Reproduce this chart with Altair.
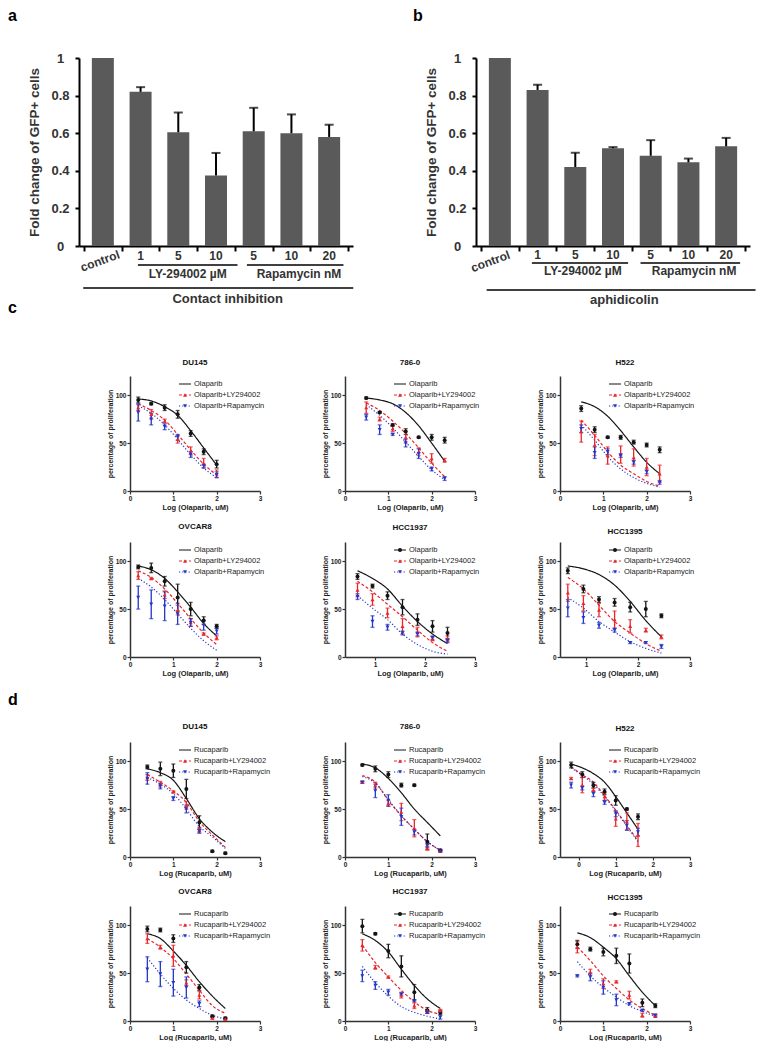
import altair as alt
import pandas as pd

FONT = "Liberation Sans"
RED = "#e8262b"
BLUE = "#2536c8"
BLACK = "#141414"
BAR_GRAY = "#5a5a5a"
AX = "#333333"

# ---------------- panels a and b ----------------
BAR_KEYS = ["control", "LY 1", "LY 5", "LY 10", "Rapa 5", "Rapa 10", "Rapa 20"]
BAR_TICKS = ["control", "1", "5", "10", "5", "10", "20"]
A_MEAN = [1.0, 0.82, 0.605, 0.375, 0.61, 0.60, 0.58]
A_ERR = [0.0, 0.025, 0.105, 0.12, 0.125, 0.10, 0.065]
B_MEAN = [1.0, 0.83, 0.42, 0.52, 0.48, 0.445, 0.53]
B_ERR = [0.0, 0.028, 0.076, 0.006, 0.083, 0.02, 0.045]

# ---------------- panel c (Olaparib) ----------------
C_DU145_X = [0.19, 0.49, 0.80, 1.10, 1.40, 1.70, 2.00]
C_DU145_DRUG = [95, 91, 87, 80, 60, 41, 28]
C_DU145_DRUG_SEM = [3, 1, 3, 4, 3, 3, 4]
C_DU145_LY = [87, 80, 73, 54, 42, 29, 18]
C_DU145_LY_SEM = [3, 5, 2, 4, 4, 5, 4]
C_DU145_RAPA = [82, 75, 67, 56, 38, 26, 17]
C_DU145_RAPA_SEM = [9, 6, 3, 3, 3, 2, 3]
C_DU145_FIT_DRUG = [96, 94, 88, 79, 63, 45, 27]
C_DU145_FIT_LY = [91, 84, 74, 59, 43, 28, 17]
C_DU145_FIT_RAPA = [89, 81, 69, 54, 38, 24, 14]

C_7860_X = [0.49, 0.80, 1.10, 1.40, 1.70, 2.00, 2.30]
C_7860_DRUG = [97, 82, 69, 62, 56, 56, 53]
C_7860_DRUG_SEM = [1, 1, 1, 3, 1, 3, 3]
C_7860_LY = [87, 75, 65, 56, 41, 34, 32]
C_7860_LY_SEM = [6, 2, 3, 6, 4, 5, 2]
C_7860_RAPA = [77, 64, 59, 50, 39, 23, 13]
C_7860_RAPA_SEM = [3, 5, 1, 4, 5, 2, 2]
C_7860_FIT_DRUG = [97, 95, 91, 82, 68, 50, 31]
C_7860_FIT_LY = [92, 84, 73, 60, 45, 29, 15]
C_7860_FIT_RAPA = [90, 79, 66, 51, 36, 22, 12]

C_H522_X = [0.49, 0.80, 1.10, 1.40, 1.70, 2.00, 2.30]
C_H522_DRUG = [86, 64, 56, 56, 51, 48, 43]
C_H522_DRUG_SEM = [3, 3, 1, 2, 2, 2, 3]
C_H522_LY = [62, 48, 37, 38, 35, 25, 18]
C_H522_LY_SEM = [11, 11, 9, 9, 9, 9, 9]
C_H522_RAPA = [65, 40, 41, 37, 30, 20, 9]
C_H522_RAPA_SEM = [4, 6, 3, 2, 2, 2, 2]
C_H522_FIT_DRUG = [93, 88, 78, 63, 46, 30, 18]
C_H522_FIT_LY = [74, 58, 41, 27, 18, 10, 5]
C_H522_FIT_RAPA = [69, 53, 36, 23, 14, 8, 4]

C_OVCAR8_X = [0.19, 0.49, 0.80, 1.10, 1.40, 1.70, 2.00]
C_OVCAR8_DRUG = [94, 93, 79, 62, 50, 38, 32]
C_OVCAR8_DRUG_SEM = [2, 5, 5, 14, 7, 4, 2]
C_OVCAR8_LY = [85, 82, 65, 49, 36, 24, 20]
C_OVCAR8_LY_SEM = [4, 1, 4, 5, 4, 1, 2]
C_OVCAR8_RAPA = [62, 55, 53, 45, 36, 33, 27]
C_OVCAR8_RAPA_SEM = [12, 15, 15, 11, 4, 5, 3]
C_OVCAR8_FIT_DRUG = [95, 91, 82, 68, 52, 35, 22]
C_OVCAR8_FIT_LY = [90, 83, 71, 56, 40, 25, 13]
C_OVCAR8_FIT_RAPA = [82, 73, 60, 45, 30, 17, 7]

C_HCC1937_X = [0.65, 0.95, 1.25, 1.55, 1.85, 2.15, 2.45]
C_HCC1937_DRUG = [84, 74, 64, 52, 39, 32, 25]
C_HCC1937_DRUG_SEM = [3, 2, 4, 8, 6, 6, 6]
C_HCC1937_LY = [70, 60, 46, 32, 26, 19, 19]
C_HCC1937_LY_SEM = [7, 6, 5, 8, 5, 2, 3]
C_HCC1937_RAPA = [63, 37, 31, 25, 24, 20, 17]
C_HCC1937_RAPA_SEM = [3, 6, 3, 2, 2, 2, 2]
C_HCC1937_FIT_DRUG = [90, 82, 71, 53, 37, 24, 14]
C_HCC1937_FIT_LY = [79, 68, 55, 42, 28, 15, 6]
C_HCC1937_FIT_RAPA = [64, 51, 39, 24, 13, 6, 3]

C_HCC1395_X = [0.65, 0.95, 1.25, 1.55, 1.85, 2.15, 2.45]
C_HCC1395_DRUG = [90, 71, 60, 57, 52, 50, 43]
C_HCC1395_DRUG_SEM = [3, 4, 3, 4, 5, 8, 2]
C_HCC1395_LY = [67, 56, 49, 39, 32, 28, 21]
C_HCC1395_LY_SEM = [9, 8, 7, 9, 7, 2, 2]
C_HCC1395_RAPA = [51, 41, 33, 28, 15, 15, 11]
C_HCC1395_RAPA_SEM = [9, 6, 3, 2, 1, 1, 2]
C_HCC1395_FIT_DRUG = [95, 92, 86, 75, 58, 38, 21]
C_HCC1395_FIT_LY = [83, 71, 54, 37, 25, 14, 6]
C_HCC1395_FIT_RAPA = [62, 51, 37, 26, 16, 9, 4]

# ---------------- panel d (Rucaparib) ----------------
D_DU145_X = [0.40, 0.70, 1.00, 1.30, 1.60, 1.90, 2.20]
D_DU145_DRUG = [94, 92, 90, 71, 36, 6, 4]
D_DU145_DRUG_SEM = [2, 7, 7, 10, 7, 1, 1]
D_DU145_LY = [83, 76, 68, 54, 28, None, None]
D_DU145_LY_SEM = [3, 3, 1, 4, 3, 0, 0]
D_DU145_RAPA = [82, 74, 61, 50, 27, None, None]
D_DU145_RAPA_SEM = [6, 3, 2, 4, 2, 0, 0]
D_DU145_FIT_DRUG = [92, 88, 80, 61, 40, 26, 16]
D_DU145_FIT_LY = [86, 78, 69, 57, 37, 23, 10]
D_DU145_FIT_RAPA = [83, 76, 66, 50, 32, 21, 9]

D_7860_X = [0.40, 0.70, 1.00, 1.30, 1.60, 1.90, 2.20]
D_7860_DRUG = [96, 92, 86, 75, 75, 16, 7]
D_7860_DRUG_SEM = [1, 3, 3, 2, 1, 8, 1]
D_7860_LY = [78, 75, 56, 47, 30, 9, 6]
D_7860_LY_SEM = [1, 3, 3, 9, 9, 2, 1]
D_7860_RAPA = [78, 69, 59, 42, 26, 12, 6]
D_7860_RAPA_SEM = [1, 7, 6, 9, 3, 2, 1]
D_7860_FIT_DRUG = [97, 93, 82, 67, 50, 36, 22]
D_7860_FIT_LY = [85, 78, 59, 43, 29, 16, 7]
D_7860_FIT_RAPA = [84, 77, 60, 43, 29, 16, 7]

D_H522_X = [-0.20, 0.10, 0.40, 0.70, 1.00, 1.30, 1.60]
D_H522_DRUG = [96, 86, 75, 68, 59, 50, 42]
D_H522_DRUG_SEM = [3, 3, 3, 3, 5, 1, 3]
D_H522_LY = [82, 75, 70, 63, 40, 37, 23]
D_H522_LY_SEM = [1, 8, 2, 4, 8, 9, 12]
D_H522_RAPA = [75, 72, 66, 57, 45, 33, 26]
D_H522_RAPA_SEM = [3, 2, 3, 2, 3, 5, 4]
D_H522_FIT_DRUG = [97, 93, 87, 78, 63, 46, 29]
D_H522_FIT_LY = [94, 86, 78, 64, 49, 33, 17]
D_H522_FIT_RAPA = [93, 85, 76, 63, 48, 32, 16]

D_OVCAR8_X = [0.40, 0.70, 1.00, 1.30, 1.60, 1.90, 2.20]
D_OVCAR8_DRUG = [96, 95, 86, 56, 35, 5, 3]
D_OVCAR8_DRUG_SEM = [3, 2, 4, 6, 3, 1, 1]
D_OVCAR8_LY = [86, 77, 68, 40, 27, 3, 2]
D_OVCAR8_LY_SEM = [5, 2, 11, 3, 4, 1, 1]
D_OVCAR8_RAPA = [54, 49, 40, 35, 18, None, None]
D_OVCAR8_RAPA_SEM = [13, 13, 14, 11, 3, 0, 0]
D_OVCAR8_FIT_DRUG = [91, 86, 73, 58, 41, 26, 13]
D_OVCAR8_FIT_LY = [86, 77, 65, 49, 32, 16, 8]
D_OVCAR8_FIT_RAPA = [66, 49, 34, 22, 13, 6, 2]

D_HCC1937_X = [0.40, 0.70, 1.00, 1.30, 1.60, 1.90, 2.20]
D_HCC1937_DRUG = [99, 91, 73, 57, 30, 11, 9]
D_HCC1937_DRUG_SEM = [7, 1, 7, 11, 8, 3, 2]
D_HCC1937_LY = [79, 56, 46, 27, 16, 11, 11]
D_HCC1937_LY_SEM = [6, 2, 1, 3, 3, 1, 1]
D_HCC1937_RAPA = [47, 37, 30, 28, 21, 9, 4]
D_HCC1937_RAPA_SEM = [6, 4, 3, 1, 1, 1, 2]
D_HCC1937_FIT_DRUG = [91, 84, 72, 54, 37, 23, 13]
D_HCC1937_FIT_LY = [79, 61, 46, 32, 20, 11, 7]
D_HCC1937_FIT_RAPA = [57, 40, 26, 15, 9, 5, 2]

D_HCC1395_X = [0.40, 0.70, 1.00, 1.30, 1.60, 1.90, 2.20]
D_HCC1395_DRUG = [80, 75, 72, 68, 60, 19, 16]
D_HCC1395_DRUG_SEM = [4, 2, 4, 8, 10, 4, 2]
D_HCC1395_LY = [77, 51, 39, 41, 27, 6, 5]
D_HCC1395_LY_SEM = [6, 3, 5, 1, 4, 2, 1]
D_HCC1395_RAPA = [47, 46, 35, 22, 18, 11, 6]
D_HCC1395_RAPA_SEM = [1, 4, 7, 6, 1, 1, 1]
D_HCC1395_FIT_DRUG = [92, 87, 77, 65, 47, 30, 16]
D_HCC1395_FIT_LY = [77, 63, 47, 34, 22, 13, 6]
D_HCC1395_FIT_RAPA = [62, 47, 35, 25, 16, 10, 5]


def letter_layer(letter, x, y):
    return alt.Chart(pd.DataFrame({"t": [letter]})).mark_text(
        font=FONT, fontSize=16, fontWeight="bold", color="black",
        align="left", baseline="alphabetic", clip=False
    ).encode(x=alt.value(x), y=alt.value(y), text="t:N")


def bar_panel(letter, means, errs, group_title, lay, width, shift):
    H = 188
    df = pd.DataFrame({"idx": list(range(7)), "key": BAR_KEYS, "tick": BAR_TICKS,
                       "m": means, "e": errs})
    df["hi"] = df["m"] + df["e"]
    xs = alt.Scale(domain=[-0.5, 6.5], nice=False, zero=False, range=[-shift, width])
    xax = alt.Axis(values=[i - 0.5 for i in range(8)], labels=False, title=None, grid=False,
                   domainColor="black", domainWidth=2, tickColor="black", tickWidth=2, tickSize=5)
    ys = alt.Scale(domain=[0, 1], nice=False)
    yax = alt.Axis(values=[0, 0.2, 0.4, 0.6, 0.8, 1.0], format="~g",
                   title="Fold change of GFP+ cells", grid=False, offset=shift,
                   labelFontSize=13, labelFontWeight="bold", labelColor=AX,
                   labelAlign="center", labelPadding=15, tickSize=4, tickWidth=2,
                   tickColor="black", domainColor="black", domainWidth=2,
                   titleFontSize=13.5, titleFontWeight="bold", titleColor=AX, titlePadding=9)
    X = alt.X("idx:Q", scale=xs, axis=xax)
    base = alt.Chart(df)
    bars = base.mark_bar(size=22, color=BAR_GRAY).encode(x=X, y=alt.Y("m:Q", scale=ys, axis=yax))
    err = base.transform_filter("datum.e > 0").mark_rule(color="black", strokeWidth=2).encode(
        x=X, y=alt.Y("m:Q", scale=ys, axis=yax), y2="hi:Q")
    caps = base.transform_filter("datum.e > 0").mark_tick(
        color="black", thickness=2, size=9, orient="horizontal").encode(
        x=X, y=alt.Y("hi:Q", scale=ys, axis=yax))
    nums = base.transform_filter("datum.idx > 0").mark_text(
        fontSize=12, fontWeight="bold", color=AX, baseline="middle", clip=False).encode(
        x=X, y=alt.value(H + lay["num"]), text="tick:N")
    ctrl = base.transform_filter("datum.idx == 0").mark_text(
        fontSize=12, fontWeight="bold", color=AX, baseline="middle", angle=340,
        dx=lay["cdx"], clip=False).encode(x=X, y=alt.value(H + lay["cy"]), text="tick:N")
    spans = pd.DataFrame({"x1": [lay["ly"][0], lay["rp"][0]], "x2": [lay["ly"][1], lay["rp"][1]]})
    grp = alt.Chart(spans).mark_rule(color="black", strokeWidth=1.5, clip=False).encode(
        x=alt.X("x1:Q", scale=xs, axis=xax), x2="x2:Q", y=alt.value(H + lay["gl"]))
    glab = alt.Chart(pd.DataFrame({"x": lay["labx"], "t": ["LY-294002 µM", "Rapamycin nM"]})).mark_text(
        fontSize=12, fontWeight="bold", color=AX, baseline="middle", clip=False).encode(
        x=alt.X("x:Q", scale=xs, axis=xax), y=alt.value(H + lay["gt"]), text="t:N")
    longr = alt.Chart(pd.DataFrame({"x1": [lay["long"][0]], "x2": [lay["long"][1]]})).mark_rule(
        color="black", strokeWidth=1.5, clip=False).encode(
        x=alt.X("x1:Q", scale=xs, axis=xax), x2="x2:Q", y=alt.value(H + lay["ll"]))
    blab = alt.Chart(pd.DataFrame({"x": [lay["botx"]], "t": [group_title]})).mark_text(
        fontSize=13, fontWeight="bold", color=AX, baseline="middle", clip=False).encode(
        x=alt.X("x:Q", scale=xs, axis=xax), y=alt.value(H + lay["lt"]), text="t:N")
    let = letter_layer(letter, lay["letx"], -37)
    return alt.layer(bars, err, caps, nums, ctrl, grp, glab, longr, blab, let).properties(
        width=width, height=H)


def series(prefix):
    g = globals()
    return (g[prefix + "_X"],
            [g[prefix + "_DRUG"], g[prefix + "_LY"], g[prefix + "_RAPA"]],
            [g[prefix + "_DRUG_SEM"], g[prefix + "_LY_SEM"], g[prefix + "_RAPA_SEM"]],
            [g[prefix + "_FIT_DRUG"], g[prefix + "_FIT_LY"], g[prefix + "_FIT_RAPA"]])


def dose_panel(prefix, title, drug, xmin, dot_legend, title_y=-13, letter=None, letter_y=0):
    W, H = 130, 115
    xv, means, sems, fits = series(prefix)
    names = [drug, drug + "+LY294002", drug + "+Rapamycin"]
    prow, frow = [], []
    for k in range(3):
        for x0, m, s in zip(xv, means[k], sems[k]):
            if m is None:
                continue
            prow.append({"x": x0, "y": m, "lo": m - s, "hi": m + s, "s": names[k]})
        for x0, f in zip(xv, fits[k]):
            frow.append({"x": x0, "y": f, "s": names[k]})
    pts = pd.DataFrame(prow)
    fit = pd.DataFrame(frow)
    leg = pd.DataFrame({"s": names, "row": [0, 1, 2]})

    xscale = alt.Scale(domain=[xmin, 3], nice=False, zero=False)
    yscale = alt.Scale(domain=[0, 120], nice=False)
    xaxis = alt.Axis(values=[t for t in (0, 1, 2, 3) if t >= xmin], format="d",
                     title=f"Log ({drug}, uM)", grid=False,
                     labelFontSize=6.5, labelFontWeight="bold", labelColor="#222",
                     titleFontSize=7.5, titleFontWeight="bold", titleColor="#222",
                     domainColor=AX, domainWidth=1.5, tickColor=AX, tickWidth=1.2,
                     tickSize=3, labelPadding=1, titlePadding=2, labelFlush=False)
    yaxis = alt.Axis(values=[0, 50, 100], title="percentage of proliferation", grid=False,
                     labelFontSize=6.5, labelFontWeight="bold", labelColor="#222",
                     titleFontSize=7, titleFontWeight="bold", titleColor="#222",
                     domainColor=AX, domainWidth=1.5, tickColor=AX, tickWidth=1.2,
                     tickSize=3, labelPadding=1, titlePadding=2)
    color = alt.Color("s:N", scale=alt.Scale(domain=names, range=[BLACK, RED, BLUE]), legend=None)
    dash = alt.StrokeDash("s:N", scale=alt.Scale(domain=names, range=[[1, 0], [3, 2], [1.2, 2]]),
                          legend=None)
    shape = alt.Shape("s:N", scale=alt.Scale(domain=names,
                                             range=["circle", "triangle-up", "triangle-down"]),
                      legend=None)
    X = alt.X("x:Q", scale=xscale, axis=xaxis)

    lines = alt.Chart(fit).mark_line(strokeWidth=1.2, interpolate="monotone").encode(
        x=X, y=alt.Y("y:Q", scale=yscale, axis=yaxis), color=color, strokeDash=dash)
    errs = alt.Chart(pts).mark_errorbar(ticks=True, size=4, thickness=1.3).encode(
        x=X, y=alt.Y("lo:Q", scale=yscale, axis=yaxis), y2="hi:Q", color=color)
    dots = alt.Chart(pts).mark_point(filled=True, size=16, opacity=1).encode(
        x=X, y=alt.Y("y:Q", scale=yscale, axis=yaxis), color=color, shape=shape)

    PY = alt.Y("py:Q", scale=None, axis=None)
    lbase = alt.Chart(leg).transform_calculate(py="8 + 11*datum.row")
    ltext = lbase.mark_text(align="left", baseline="middle", fontSize=7.5, color="#222",
                            clip=False).encode(x=alt.value(64), y=PY, text="s:N")
    lline = lbase.mark_rule(strokeWidth=1.2, clip=False).encode(
        x=alt.value(49), x2=alt.value(61), y=PY, color=color, strokeDash=dash)
    lpt = lbase.transform_filter("true" if dot_legend else "datum.row > 0").mark_point(
        filled=True, size=16, opacity=1, clip=False).encode(
        x=alt.value(55), y=PY, color=color, shape=shape)
    ttl = alt.Chart(pd.DataFrame({"t": [title]})).mark_text(
        fontSize=8, fontWeight="bold", color="#111", baseline="middle", clip=False).encode(
        x=alt.value(W / 2), y=alt.value(title_y), text="t:N")
    layers = [lines, errs, dots, lline, lpt, ltext, ttl]
    if letter:
        layers.append(letter_layer(letter, -122, letter_y))
    return alt.layer(*layers).properties(width=W, height=H)


LAY_A = {"num": 10, "cy": 14, "cdx": -3, "gl": 19, "gt": 28, "ll": 42, "lt": 53,
         "ly": [0.93, 3.57], "rp": [3.82, 6.38], "long": [-0.52, 6.64],
         "labx": [2.25, 5.2], "botx": 3.31, "letx": -122}
LAY_B = {"num": 9, "cy": 12, "cdx": -10, "gl": 17, "gt": 25, "ll": 44, "lt": 54,
         "ly": [0.85, 3.4], "rp": [3.73, 6.37], "long": [-0.35, 6.78],
         "labx": [2.2, 5.15], "botx": 3.3, "letx": -63}

chart_a = bar_panel("a", A_MEAN, A_ERR, "Contact inhibition", LAY_A, 223, 51)
chart_b = bar_panel("b", B_MEAN, B_ERR, "aphidicolin", LAY_B, 274, 0)
AB = alt.hconcat(chart_a, chart_b, spacing=123, bounds="flush")

C = alt.concat(
    dose_panel("C_DU145", "DU145", "Olaparib", 0, False, -13, "c", -63),
    dose_panel("C_7860", "786-0", "Olaparib", 0, False, -13),
    dose_panel("C_H522", "H522", "Olaparib", 0, False, -13),
    dose_panel("C_OVCAR8", "OVCAR8", "Olaparib", 0, False, -15),
    dose_panel("C_HCC1937", "HCC1937", "Olaparib", 0.4, True, -14),
    dose_panel("C_HCC1395", "HCC1395", "Olaparib", 0.5, True, -10),
    columns=3, spacing={"row": 51, "column": 85}, bounds="flush")

D = alt.concat(
    dose_panel("D_DU145", "DU145", "Rucaparib", 0, False, -15, "d", -37),
    dose_panel("D_7860", "786-0", "Rucaparib", 0, False, -15),
    dose_panel("D_H522", "H522", "Rucaparib", -0.5, False, -13),
    dose_panel("D_OVCAR8", "OVCAR8", "Rucaparib", 0, False, -14),
    dose_panel("D_HCC1937", "HCC1937", "Rucaparib", 0, True, -14),
    dose_panel("D_HCC1395", "HCC1395", "Rucaparib", 0, True, -8),
    columns=3, spacing={"row": 49, "column": 85}, bounds="flush")

chart = alt.vconcat(alt.vconcat(AB, C, spacing=-7), D, spacing=15).properties(
    padding=0).configure(font=FONT).configure_view(stroke=None)

chart.save("out.html", embed_options={"renderer": "svg", "actions": False})
